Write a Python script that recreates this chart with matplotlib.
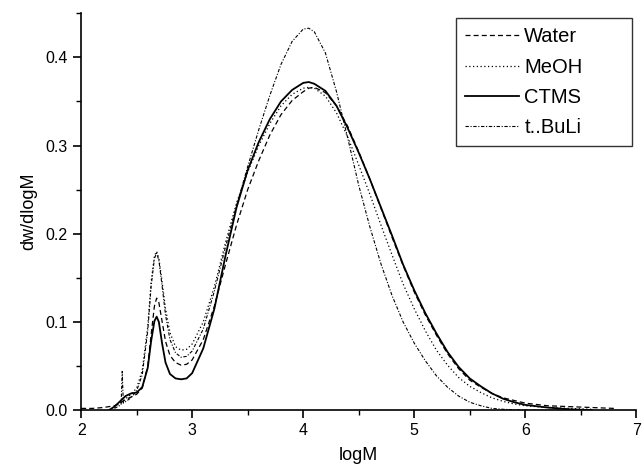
#! /usr/bin/env python3
"""
Molecular weight distribution (dw/dlogM vs logM) for four terminating agents.
"""

import matplotlib.pyplot as plt
from matplotlib.ticker import MultipleLocator

plt.rcParams["font.family"] = ["Liberation Sans", "DejaVu Sans"]

# Water (dashed)
water_x = [2.0, 2.1, 2.2, 2.3, 2.35, 2.4, 2.45, 2.5, 2.55, 2.6, 2.63, 2.66, 2.68,
           2.7, 2.73, 2.76, 2.8, 2.85, 2.9, 2.95, 3.0, 3.1, 3.2, 3.3, 3.4, 3.5,
           3.6, 3.7, 3.8, 3.9, 4.0, 4.05, 4.1, 4.2, 4.3, 4.4, 4.5, 4.6, 4.7, 4.8,
           4.9, 5.0, 5.1, 5.2, 5.3, 5.4, 5.5, 5.6, 5.7, 5.8, 5.9, 6.0, 6.2, 6.4,
           6.6, 6.8]
water_y = [0.002, 0.002, 0.003, 0.005, 0.008, 0.012, 0.015, 0.018, 0.025, 0.050,
           0.085, 0.118, 0.127, 0.122, 0.100, 0.078, 0.062, 0.054, 0.051, 0.052,
           0.057, 0.080, 0.118, 0.165, 0.210, 0.250, 0.283, 0.312, 0.335, 0.351,
           0.361, 0.365, 0.366, 0.360, 0.345, 0.322, 0.293, 0.262, 0.229, 0.196,
           0.164, 0.134, 0.108, 0.085, 0.064, 0.047, 0.034, 0.026, 0.019, 0.014,
           0.011, 0.008, 0.005, 0.004, 0.003, 0.002]

# MeOH (dotted)
meoh_x = [2.3, 2.35, 2.4, 2.45, 2.5, 2.55, 2.6, 2.63, 2.66, 2.68, 2.7, 2.73,
          2.76, 2.8, 2.85, 2.9, 2.95, 3.0, 3.1, 3.2, 3.3, 3.4, 3.5, 3.6, 3.7,
          3.8, 3.9, 4.0, 4.05, 4.1, 4.2, 4.3, 4.4, 4.5, 4.6, 4.7, 4.8, 4.9, 5.0,
          5.1, 5.2, 5.3, 5.4, 5.5, 5.6, 5.7, 5.8, 5.9, 6.0, 6.2, 6.4, 6.6]
meoh_y = [0.003, 0.008, 0.013, 0.018, 0.025, 0.045, 0.095, 0.145, 0.175, 0.180,
          0.172, 0.145, 0.115, 0.088, 0.072, 0.068, 0.069, 0.075, 0.100, 0.140,
          0.190, 0.235, 0.270, 0.300, 0.325, 0.345, 0.358, 0.365, 0.366, 0.365,
          0.356, 0.337, 0.310, 0.278, 0.245, 0.210, 0.176, 0.143, 0.115, 0.090,
          0.068, 0.051, 0.037, 0.027, 0.020, 0.014, 0.010, 0.007, 0.005, 0.003,
          0.002, 0.001]

# CTMS (solid)
ctms_x = [2.25, 2.3, 2.35, 2.4, 2.45, 2.5, 2.55, 2.6, 2.63, 2.66, 2.68, 2.7,
          2.73, 2.76, 2.8, 2.85, 2.9, 2.95, 3.0, 3.1, 3.2, 3.3, 3.4, 3.5, 3.6,
          3.7, 3.8, 3.9, 4.0, 4.05, 4.1, 4.2, 4.3, 4.4, 4.5, 4.6, 4.7, 4.8, 4.9,
          5.0, 5.1, 5.2, 5.3, 5.4, 5.5, 5.6, 5.7, 5.8, 5.9, 6.0, 6.2, 6.4, 6.6]
ctms_y = [0.0, 0.004, 0.010, 0.016, 0.019, 0.020, 0.026, 0.048, 0.078, 0.101,
          0.106, 0.100, 0.075, 0.054, 0.041, 0.036, 0.035, 0.036, 0.042, 0.070,
          0.115, 0.175, 0.230, 0.272, 0.304, 0.330, 0.350, 0.363, 0.371, 0.372,
          0.370, 0.362, 0.345, 0.320, 0.292, 0.262, 0.230, 0.198, 0.165, 0.136,
          0.110, 0.087, 0.066, 0.049, 0.036, 0.027, 0.019, 0.013, 0.009, 0.006,
          0.003, 0.001, 0.0]

# t..BuLi (dash-dot)
buli_x = [2.3, 2.36, 2.37, 2.38, 2.45, 2.5, 2.55, 2.6, 2.63, 2.66, 2.68, 2.7,
          2.73, 2.76, 2.8, 2.85, 2.9, 2.95, 3.0, 3.1, 3.2, 3.3, 3.4, 3.5, 3.6,
          3.7, 3.8, 3.9, 4.0, 4.05, 4.1, 4.2, 4.3, 4.4, 4.5, 4.6, 4.7, 4.8, 4.9,
          5.0, 5.1, 5.2, 5.3, 5.4, 5.5, 5.6, 5.7, 5.8, 6.0, 6.5]
buli_y = [0.002, 0.006, 0.044, 0.008, 0.014, 0.022, 0.040, 0.090, 0.140, 0.172,
          0.178, 0.170, 0.140, 0.108, 0.080, 0.065, 0.060, 0.061, 0.067, 0.092,
          0.135, 0.185, 0.232, 0.276, 0.318, 0.357, 0.392, 0.418, 0.432, 0.433,
          0.429, 0.405, 0.361, 0.309, 0.255, 0.208, 0.166, 0.130, 0.100, 0.076,
          0.056, 0.039, 0.026, 0.016, 0.009, 0.005, 0.002, 0.001, 0.0, 0.0]


def main():
    """
    Draw the four distributions and save out.png
    """
    fig = plt.figure(figsize=(6.44, 4.72), dpi=100)
    ax = fig.add_axes([0.126, 0.131, 0.862, 0.841])

    ax.plot(water_x, water_y, color="k", linestyle=(0, (4, 2.5)), linewidth=0.9,
            label="Water")
    ax.plot(meoh_x, meoh_y, color="k", linestyle=(0, (1, 2)), linewidth=0.9,
            label="MeOH")
    ax.plot(ctms_x, ctms_y, color="k", linestyle="-", linewidth=1.3, label="CTMS")
    ax.plot(buli_x, buli_y, color="k", linestyle=(0, (3, 1.5, 1, 1.5)),
            linewidth=0.8, label="t..BuLi")

    ax.set_xlim(2, 7)
    ax.set_ylim(0, 0.45)
    ax.xaxis.set_major_locator(MultipleLocator(1))
    ax.xaxis.set_minor_locator(MultipleLocator(0.5))
    ax.yaxis.set_major_locator(MultipleLocator(0.1))
    ax.yaxis.set_minor_locator(MultipleLocator(0.05))
    ax.yaxis.set_major_formatter(plt.FormatStrFormatter("%.1f"))

    for side in ("top", "right"):
        ax.spines[side].set_visible(False)
    for side in ("left", "bottom"):
        ax.spines[side].set_linewidth(1.2)
    ax.tick_params(which="major", direction="out", length=6, width=1.2,
                   labelsize=11.5)
    ax.tick_params(which="minor", direction="out", length=3.5, width=1.0)

    ax.set_xlabel("logM", fontsize=13, labelpad=6)
    ax.set_ylabel("dw/dlogM", fontsize=13, labelpad=6)

    # legend box stretched to the width seen in the original
    leg = ax.legend(loc="upper left", bbox_to_anchor=(0.675, 0.66, 0.318, 0.327),
                    mode="expand", fontsize=14.5, frameon=True, fancybox=False,
                    handlelength=2.7, handletextpad=0.25, labelspacing=0.56,
                    borderpad=0.45, borderaxespad=0.0)
    leg.get_frame().set_edgecolor("k")
    leg.get_frame().set_linewidth(1.0)

    fig.savefig("out.png", dpi=100)


if __name__ == "__main__":
    main()
